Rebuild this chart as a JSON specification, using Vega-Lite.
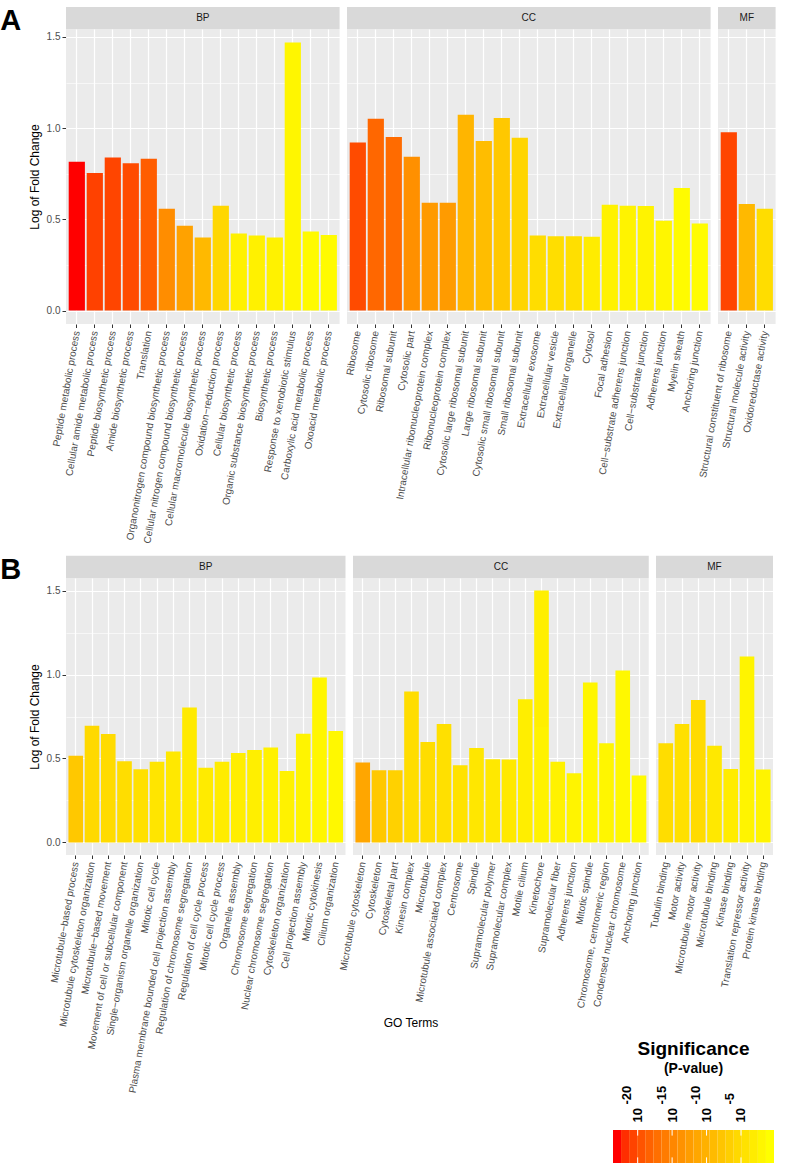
{
  "$schema": "https://vega.github.io/schema/vega-lite/v6.json",
  "background": "white",
  "padding": {"left": 0, "top": 7, "right": 12, "bottom": 0},
  "config": {
    "font": "Liberation Sans",
    "view": {"fill": "#EBEBEB", "stroke": null},
    "axis": {"domain": false, "tickColor": "#333333", "labelColor": "#4D4D4D", "labelFontSize": 10, "titleFontWeight": "normal", "titleFontSize": 12, "titleColor": "black", "gridColor": "white"}
  },
  "spacing": -54,
  "resolve": {"scale": {"x": "independent", "y": "independent", "color": "shared"}},
  "vconcat": [
    {
      "spacing": 11,
      "resolve": {"scale": {"x": "independent", "y": "independent", "color": "shared"}},
      "vconcat": [
        {
          "title": {"text": "A", "orient": "left", "anchor": "end", "angle": 0, "align": "right", "baseline": "top", "fontSize": 29, "fontWeight": "bold", "color": "black", "offset": -14},
          "data": {"values": [
            {"cat": "BP", "term": "Peptide metabolic process", "lfc": 0.816, "lp": -23.0},
            {"cat": "BP", "term": "Cellular amide metabolic process", "lfc": 0.754, "lp": -20.78},
            {"cat": "BP", "term": "Peptide biosynthetic process", "lfc": 0.839, "lp": -20.56},
            {"cat": "BP", "term": "Amide biosynthetic process", "lfc": 0.808, "lp": -20.11},
            {"cat": "BP", "term": "Translation", "lfc": 0.832, "lp": -18.78},
            {"cat": "BP", "term": "Organonitrogen compound biosynthetic process", "lfc": 0.558, "lp": -14.12},
            {"cat": "BP", "term": "Cellular nitrogen compound biosynthetic process", "lfc": 0.465, "lp": -11.9},
            {"cat": "BP", "term": "Cellular macromolecule biosynthetic process", "lfc": 0.401, "lp": -9.23},
            {"cat": "BP", "term": "Oxidation−reduction process", "lfc": 0.575, "lp": -5.68},
            {"cat": "BP", "term": "Cellular biosynthetic process", "lfc": 0.423, "lp": -2.57},
            {"cat": "BP", "term": "Organic substance biosynthetic process", "lfc": 0.412, "lp": -2.46},
            {"cat": "BP", "term": "Biosynthetic process", "lfc": 0.401, "lp": -2.35},
            {"cat": "BP", "term": "Response to xenobiotic stimulus", "lfc": 1.469, "lp": -1.9},
            {"cat": "BP", "term": "Carboxylic acid metabolic process", "lfc": 0.434, "lp": -1.46},
            {"cat": "BP", "term": "Oxoacid metabolic process", "lfc": 0.414, "lp": -1.23},
            {"cat": "CC", "term": "Ribosome", "lfc": 0.921, "lp": -20.11},
            {"cat": "CC", "term": "Cytosolic ribosome", "lfc": 1.051, "lp": -17.89},
            {"cat": "CC", "term": "Ribosomal subunit", "lfc": 0.951, "lp": -17.56},
            {"cat": "CC", "term": "Cytosolic part", "lfc": 0.843, "lp": -13.89},
            {"cat": "CC", "term": "Intracellular ribonucleoprotein complex", "lfc": 0.591, "lp": -12.78},
            {"cat": "CC", "term": "Ribonucleoprotein complex", "lfc": 0.591, "lp": -12.6},
            {"cat": "CC", "term": "Cytosolic large ribosomal subunit", "lfc": 1.073, "lp": -9.67},
            {"cat": "CC", "term": "Large ribosomal subunit", "lfc": 0.93, "lp": -8.79},
            {"cat": "CC", "term": "Cytosolic small ribosomal subunit", "lfc": 1.056, "lp": -7.45},
            {"cat": "CC", "term": "Small ribosomal subunit", "lfc": 0.947, "lp": -5.9},
            {"cat": "CC", "term": "Extracellular exosome", "lfc": 0.412, "lp": -4.9},
            {"cat": "CC", "term": "Extracellular vesicle", "lfc": 0.407, "lp": -4.79},
            {"cat": "CC", "term": "Extracellular organelle", "lfc": 0.407, "lp": -4.68},
            {"cat": "CC", "term": "Cytosol", "lfc": 0.405, "lp": -3.08},
            {"cat": "CC", "term": "Focal adhesion", "lfc": 0.58, "lp": -2.35},
            {"cat": "CC", "term": "Cell−substrate adherens junction", "lfc": 0.575, "lp": -2.3},
            {"cat": "CC", "term": "Cell−substrate junction", "lfc": 0.573, "lp": -2.23},
            {"cat": "CC", "term": "Adherens junction", "lfc": 0.493, "lp": -1.9},
            {"cat": "CC", "term": "Myelin sheath", "lfc": 0.672, "lp": -1.23},
            {"cat": "CC", "term": "Anchoring junction", "lfc": 0.478, "lp": -1.2},
            {"cat": "MF", "term": "Structural constituent of ribosome", "lfc": 0.978, "lp": -20.56},
            {"cat": "MF", "term": "Structural molecule activity", "lfc": 0.584, "lp": -9.23},
            {"cat": "MF", "term": "Oxidoreductase activity", "lfc": 0.558, "lp": -4.9}
          ]},
          "facet": {"column": {"field": "cat", "type": "nominal", "sort": ["BP", "CC", "MF"], "header": {"labels": false, "title": null}}},
          "spacing": {"column": 7},
          "bounds": "flush",
          "resolve": {"scale": {"x": "independent"}},
          "spec": {
            "width": {"step": 18},
            "height": 295,
            "layer": [
              {
                "mark": {"type": "bar"},
                "encoding": {
                  "x": {"field": "term", "type": "nominal", "sort": null, "scale": {"paddingInner": 0.1, "paddingOuter": 0.15},
                    "axis": {"title": null, "labelAngle": -80, "labelAlign": "right", "labelBaseline": "middle", "labelPadding": 3, "labelLimit": 400, "labelOverlap": false, "bandPosition": 0.5, "grid": true, "gridWidth": 1.2, "tickSize": 3.5}},
                  "y": {"field": "lfc", "type": "quantitative", "scale": {"domain": [-0.0735, 1.5435], "nice": false, "zero": false},
                    "axis": {"title": "Log of Fold Change", "values": [0, 0.25, 0.5, 0.75, 1, 1.25, 1.5], "labelExpr": "datum.value % 0.5 > 0.01 ? '' : format(datum.value, '.1f')", "gridWidth": {"condition": {"test": "datum.value % 0.5 > 0.01", "value": 0.6}, "value": 1.2}, "tickOpacity": {"condition": {"test": "datum.value % 0.5 > 0.01", "value": 0}, "value": 1}, "tickSize": 4, "labelPadding": 2, "titlePadding": 5}},
                  "color": {"field": "lp", "type": "quantitative", "scale": {"domain": [-23.0, -0.79], "range": ["#FF0000", "#FFFF00"], "interpolate": "lab"}, "legend": null}
                }
              },
              {
                "transform": [{"aggregate": [{"op": "count", "as": "n"}], "groupby": ["cat"]}],
                "mark": {"type": "rect", "color": "#D9D9D9"},
                "encoding": {"y": {"datum": 1.5435}, "y2": {"datum": 1.664}}
              },
              {
                "transform": [{"aggregate": [{"op": "count", "as": "n"}], "groupby": ["cat"]}],
                "mark": {"type": "text", "fontSize": 10, "color": "#1A1A1A", "baseline": "middle", "align": "center"},
                "encoding": {"y": {"datum": 1.6038}, "x": {"value": {"expr": "item.mark.group.width / 2"}}, "text": {"field": "cat"}}
              }
            ]
          }
        },
        {
          "title": {"text": "B", "orient": "left", "anchor": "end", "angle": 0, "align": "right", "baseline": "top", "fontSize": 29, "fontWeight": "bold", "color": "black", "offset": -14},
          "data": {"values": [
            {"cat": "BP", "term": "Microtubule−based process", "lfc": 0.516, "lp": -7.45},
            {"cat": "BP", "term": "Microtubule cytoskeleton organization", "lfc": 0.695, "lp": -5.45},
            {"cat": "BP", "term": "Microtubule−based movement", "lfc": 0.646, "lp": -5.23},
            {"cat": "BP", "term": "Movement of cell or subcellular component", "lfc": 0.484, "lp": -4.9},
            {"cat": "BP", "term": "Single−organism organelle organization", "lfc": 0.436, "lp": -4.57},
            {"cat": "BP", "term": "Mitotic cell cycle", "lfc": 0.48, "lp": -4.01},
            {"cat": "BP", "term": "Plasma membrane bounded cell projection assembly", "lfc": 0.542, "lp": -3.57},
            {"cat": "BP", "term": "Regulation of chromosome segregation", "lfc": 0.803, "lp": -3.34},
            {"cat": "BP", "term": "Regulation of cell cycle process", "lfc": 0.444, "lp": -3.3},
            {"cat": "BP", "term": "Mitotic cell cycle process", "lfc": 0.48, "lp": -3.08},
            {"cat": "BP", "term": "Organelle assembly", "lfc": 0.532, "lp": -2.86},
            {"cat": "BP", "term": "Chromosome segregation", "lfc": 0.55, "lp": -2.8},
            {"cat": "BP", "term": "Nuclear chromosome segregation", "lfc": 0.566, "lp": -2.57},
            {"cat": "BP", "term": "Cytoskeleton organization", "lfc": 0.426, "lp": -2.35},
            {"cat": "BP", "term": "Cell projection assembly", "lfc": 0.647, "lp": -2.12},
            {"cat": "BP", "term": "Mitotic cytokinesis", "lfc": 0.982, "lp": -1.9},
            {"cat": "BP", "term": "Cilium organization", "lfc": 0.663, "lp": -1.68},
            {"cat": "CC", "term": "Microtubule cytoskeleton", "lfc": 0.476, "lp": -11.45},
            {"cat": "CC", "term": "Cytoskeleton", "lfc": 0.43, "lp": -7.45},
            {"cat": "CC", "term": "Cytoskeletal part", "lfc": 0.43, "lp": -6.45},
            {"cat": "CC", "term": "Kinesin complex", "lfc": 0.899, "lp": -5.01},
            {"cat": "CC", "term": "Microtubule", "lfc": 0.598, "lp": -4.9},
            {"cat": "CC", "term": "Microtubule associated complex", "lfc": 0.705, "lp": -4.57},
            {"cat": "CC", "term": "Centrosome", "lfc": 0.46, "lp": -4.34},
            {"cat": "CC", "term": "Spindle", "lfc": 0.562, "lp": -3.79},
            {"cat": "CC", "term": "Supramolecular polymer", "lfc": 0.496, "lp": -3.57},
            {"cat": "CC", "term": "Supramolecular complex", "lfc": 0.494, "lp": -3.5},
            {"cat": "CC", "term": "Motile cilium", "lfc": 0.853, "lp": -2.86},
            {"cat": "CC", "term": "Kinetochore", "lfc": 0.813, "lp": -2.79},
            {"cat": "CC", "term": "Kinetochore", "lfc": 0.687, "lp": -2.35},
            {"cat": "CC", "term": "Supramolecular fiber", "lfc": 0.48, "lp": -2.35},
            {"cat": "CC", "term": "Adherens junction", "lfc": 0.412, "lp": -2.12},
            {"cat": "CC", "term": "Mitotic spindle", "lfc": 0.952, "lp": -1.9},
            {"cat": "CC", "term": "Chromosome, centromeric region", "lfc": 0.59, "lp": -1.85},
            {"cat": "CC", "term": "Condensed nuclear chromosome", "lfc": 1.024, "lp": -1.68},
            {"cat": "CC", "term": "Anchoring junction", "lfc": 0.398, "lp": -1.35},
            {"cat": "MF", "term": "Tubulin binding", "lfc": 0.59, "lp": -5.01},
            {"cat": "MF", "term": "Motor activity", "lfc": 0.705, "lp": -4.57},
            {"cat": "MF", "term": "Microtubule motor activity", "lfc": 0.849, "lp": -5.23},
            {"cat": "MF", "term": "Microtubule binding", "lfc": 0.576, "lp": -3.57},
            {"cat": "MF", "term": "Kinase binding", "lfc": 0.438, "lp": -3.08},
            {"cat": "MF", "term": "Translation repressor activity", "lfc": 1.108, "lp": -2.12},
            {"cat": "MF", "term": "Protein kinase binding", "lfc": 0.434, "lp": -2.12}
          ]},
          "facet": {"column": {"field": "cat", "type": "nominal", "sort": ["BP", "CC", "MF"], "header": {"labels": false, "title": "GO Terms", "titleOrient": "bottom", "titleFontSize": 12, "titleFontWeight": "normal", "titleColor": "black", "titlePadding": 153}}},
          "spacing": {"column": 7},
          "bounds": "flush",
          "resolve": {"scale": {"x": "independent"}},
          "spec": {
            "width": {"step": 16.25},
            "height": 277,
            "layer": [
              {
                "mark": {"type": "bar"},
                "encoding": {
                  "x": {"field": "term", "type": "nominal", "sort": null, "scale": {"paddingInner": 0.1, "paddingOuter": 0.15},
                    "axis": {"title": null, "labelAngle": -80, "labelAlign": "right", "labelBaseline": "middle", "labelPadding": 3, "labelLimit": 400, "labelOverlap": false, "bandPosition": 0.5, "grid": true, "gridWidth": 1.2, "tickSize": 3.5}},
                  "y": {"field": "lfc", "type": "quantitative", "stack": "zero", "scale": {"domain": [-0.075, 1.575], "nice": false, "zero": false},
                    "axis": {"title": "Log of Fold Change", "values": [0, 0.25, 0.5, 0.75, 1, 1.25, 1.5], "labelExpr": "datum.value % 0.5 > 0.01 ? '' : format(datum.value, '.1f')", "gridWidth": {"condition": {"test": "datum.value % 0.5 > 0.01", "value": 0.6}, "value": 1.2}, "tickOpacity": {"condition": {"test": "datum.value % 0.5 > 0.01", "value": 0}, "value": 1}, "tickSize": 4, "labelPadding": 2, "titlePadding": 5}},
                  "color": {"field": "lp", "type": "quantitative", "scale": {"domain": [-23.0, -0.79], "range": ["#FF0000", "#FFFF00"], "interpolate": "lab"}, "legend": null}
                }
              },
              {
                "transform": [{"aggregate": [{"op": "count", "as": "n"}], "groupby": ["cat"]}],
                "mark": {"type": "rect", "color": "#D9D9D9"},
                "encoding": {"y": {"datum": 1.575}, "y2": {"datum": 1.708}}
              },
              {
                "transform": [{"aggregate": [{"op": "count", "as": "n"}], "groupby": ["cat"]}],
                "mark": {"type": "text", "fontSize": 10, "color": "#1A1A1A", "baseline": "middle", "align": "center"},
                "encoding": {"y": {"datum": 1.6415}, "x": {"value": {"expr": "item.mark.group.width / 2"}}, "text": {"field": "cat"}}
              }
            ]
          }
        }
      ]
    },
    {
      "spacing": 0,
      "hconcat": [
        {
          "width": 547, "height": 33,
          "view": {"fill": "transparent", "stroke": null},
          "data": {"values": []},
          "mark": "point"
        },
        {
          "width": 161, "height": 33,
          "view": {"fill": "transparent", "stroke": null},
          "title": {"text": "Significance", "subtitle": "(P-value)", "fontSize": 19, "fontWeight": "bold", "color": "black", "subtitleFontSize": 14, "subtitleFontWeight": "bold", "subtitleColor": "black", "subtitlePadding": 3, "anchor": "middle", "offset": 9},
          "resolve": {"axis": {"x": "independent"}},
          "layer": [
            {
              "data": {"values": [
                {"v": -23.0, "lo": -23.584, "hi": -22.415},
                {"v": -21.831, "lo": -22.415, "hi": -21.246},
                {"v": -20.662, "lo": -21.246, "hi": -20.077},
                {"v": -19.493, "lo": -20.077, "hi": -18.908},
                {"v": -18.324, "lo": -18.908, "hi": -17.739},
                {"v": -17.155, "lo": -17.739, "hi": -16.57},
                {"v": -15.986, "lo": -16.57, "hi": -15.401},
                {"v": -14.817, "lo": -15.401, "hi": -14.232},
                {"v": -13.648, "lo": -14.232, "hi": -13.063},
                {"v": -12.479, "lo": -13.063, "hi": -11.895},
                {"v": -11.311, "lo": -11.895, "hi": -10.726},
                {"v": -10.142, "lo": -10.726, "hi": -9.557},
                {"v": -8.973, "lo": -9.557, "hi": -8.388},
                {"v": -7.804, "lo": -8.388, "hi": -7.219},
                {"v": -6.635, "lo": -7.219, "hi": -6.05},
                {"v": -5.466, "lo": -6.05, "hi": -4.881},
                {"v": -4.297, "lo": -4.881, "hi": -3.712},
                {"v": -3.128, "lo": -3.712, "hi": -2.543},
                {"v": -1.959, "lo": -2.543, "hi": -1.374},
                {"v": -0.79, "lo": -1.374, "hi": -0.206}
              ]},
              "mark": {"type": "rect"},
              "encoding": {
                "x": {"field": "lo", "type": "quantitative", "scale": {"domain": [-23.584, -0.206], "nice": false, "zero": false},
                  "axis": {"orient": "top", "title": null, "grid": false, "ticks": false, "domain": false, "values": [-20, -15, -10, -5], "labelExpr": "'10'", "labelAngle": -90, "labelAlign": "left", "labelBaseline": "middle", "labelPadding": 8, "labelFontSize": 13, "labelFontWeight": "bold", "labelColor": "black", "labelOverlap": false, "labelFlush": false}},
                "x2": {"field": "hi"},
                "color": {"field": "v", "type": "quantitative", "scale": {"domain": [-23.0, -0.79], "range": ["#FF0000", "#FFFF00"], "interpolate": "lab"}, "legend": null}
              }
            },
            {
              "data": {"values": [{"t": -20}, {"t": -15}, {"t": -10}, {"t": -5}]},
              "mark": {"type": "rule", "color": "white", "strokeWidth": 1},
              "encoding": {
                "x": {"field": "t", "type": "quantitative",
                  "axis": {"orient": "top", "title": null, "grid": false, "ticks": false, "domain": false, "values": [-20, -15, -10, -5], "labelExpr": "'' + datum.value", "labelAngle": -90, "labelAlign": "left", "labelBaseline": "middle", "labelPadding": 26, "labelOffset": -11, "labelFontSize": 13, "labelFontWeight": "bold", "labelColor": "black", "labelOverlap": false, "labelFlush": false}},
                "y": {"datum": 0, "scale": {"domain": [0, 1]}, "axis": null}, "y2": {"datum": 0.17}}
            },
            {
              "data": {"values": [{"t": -20}, {"t": -15}, {"t": -10}, {"t": -5}]},
              "mark": {"type": "rule", "color": "white", "strokeWidth": 1},
              "encoding": {"x": {"field": "t", "type": "quantitative", "axis": null}, "y": {"datum": 0.83}, "y2": {"datum": 1}}
            }
          ]
        }
      ]
    }
  ]
}
